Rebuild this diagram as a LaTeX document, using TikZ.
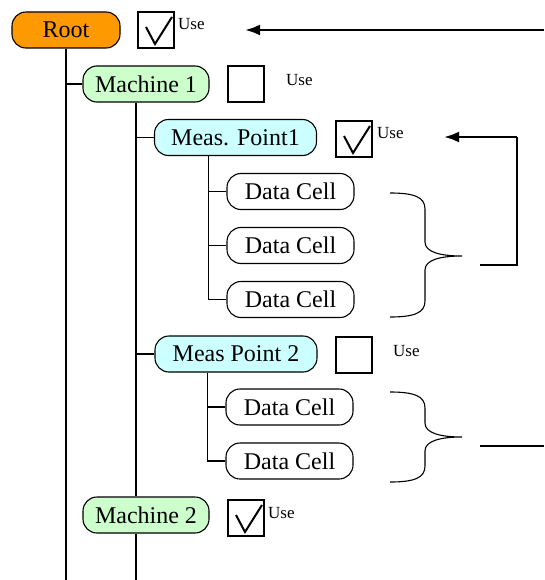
\documentclass[tikz,border=0pt]{standalone}
\usepackage{fontspec}
\setmainfont{Liberation Serif}
\usepackage{tikz}
\usetikzlibrary{positioning,calc,arrows.meta}

\definecolor{rootorange}{HTML}{FF9900}
\definecolor{machgreen}{HTML}{CCFFCC}
\definecolor{meascyan}{HTML}{CCFFFF}

% tick in a "Use" box
\newcommand{\usetick}[1]{\draw[tick] ($(#1.center)+(-10,-3)$) -- ($(#1.center)+(-1,14)$) -- ($(#1.center)+(16,-13)$);}
% brace: top y, tip y, bottom y
\newcommand{\cellbrace}[3]{\draw[tree] (390,#1) .. controls (414,#1) and (425,#1+4) .. (425,#1+16)
    -- (425,#2-14) .. controls (425,#2-4) and (440,#2) .. (462,#2)
    .. controls (440,#2) and (425,#2+4) .. (425,#2+14)
    -- (425,#3-16) .. controls (425,#3-4) and (414,#3) .. (390,#3);}

\begin{document}
\begin{tikzpicture}[
    x=1pt, y=-1pt,
    tnode/.style={draw, line width=1.1pt, rounded corners=14pt, minimum height=36pt, inner sep=0pt, font=\rmfamily\fontsize{24}{27}\selectfont},
    rootnode/.style={tnode, fill=rootorange, minimum width=108pt},
    machnode/.style={tnode, fill=machgreen, minimum width=126pt},
    measnode/.style={tnode, fill=meascyan, minimum width=162pt},
    cellnode/.style={tnode, fill=white, minimum width=127pt},
    usebox/.style={draw, line width=1.1pt, minimum size=36pt, inner sep=0pt},
    uselabel/.style={anchor=base west, inner sep=0pt, font=\rmfamily\fontsize{17}{20}\selectfont},
    tree/.style={line width=1.1pt},
    tick/.style={line width=2pt},
    feedarrow/.style={line width=2.5pt, -{Latex[length=15pt,width=11pt]}}
]
\useasboundingbox (0,0) rectangle (544,580);

% Define node positions
\node[rootnode] (root) at (66,30) {Root};
\node[machnode] (m1) at (146,84) {Machine 1};
\node[measnode] (mp1) at (235.5,137.5) {Meas. Point1};
\node[cellnode] (c11) at (290.5,191.5) {Data Cell};
\node[cellnode] (c12) at (290.5,245.5) {Data Cell};
\node[cellnode] (c13) at (290.5,299.5) {Data Cell};
\node[measnode] (mp2) at (236,354) {Meas Point 2};
\node[cellnode] (c21) at (289.5,407) {Data Cell};
\node[cellnode] (c22) at (289.5,461) {Data Cell};
\node[machnode] (m2) at (146,515) {Machine 2};
\coordinate (bottom) at (0,580);

% Use boxes
\node[usebox] (rootbox) at (156,30) {};
\node[usebox] (m1box) at (246,84) {};
\node[usebox] (mp1box) at (354,139) {};
\node[usebox] (mp2box) at (354,355) {};
\node[usebox] (m2box) at (246,518) {};
\usetick{rootbox}
\usetick{mp1box}
\usetick{m2box}
\node[uselabel] (rootuse) at (178,30) {Use};
\node[uselabel] (m1use) at (286,86) {Use};
\node[uselabel] (mp1use) at (377,139) {Use};
\node[uselabel] (mp2use) at (393,356) {Use};
\node[uselabel] (m2use) at (268,518) {Use};

% Tree lines
\draw[tree] (root.south) -- (root.south |- bottom);
\draw[tree] (root.south |- m1.west) -- (m1.west);
\draw[tree] ([xshift=-18pt]mp1.west |- m1.south) -- ([xshift=-18pt]mp1.west |- m2.north);
\draw[tree] ([xshift=-18pt]mp1.west |- m2.south) -- ([xshift=-18pt]mp1.west |- bottom);
\draw[tree] ([xshift=-18pt]mp1.west) -- (mp1.west);
\draw[tree] ([xshift=-18pt]mp2.west) -- (mp2.west);
\draw[tree] ([xshift=-18pt]c11.west |- mp1.south) |- (c13.west);
\draw[tree] ([xshift=-18pt]c11.west) -- (c11.west);
\draw[tree] ([xshift=-18pt]c12.west) -- (c12.west);
\draw[tree] ([xshift=-18pt]c21.west |- mp2.south) |- (c22.west);
\draw[tree] ([xshift=-18pt]c21.west) -- (c21.west);

% Braces and feedback
\cellbrace{193}{256}{317}
\cellbrace{392}{437}{482}
\coordinate (rootfeed) at (544,30);
\coordinate (rootin) at (245,30);
\coordinate (fb1) at (480,265);
\coordinate (fb1turn) at (517,137);
\coordinate (fb1in) at (444,137);
\coordinate (fb2) at (480,446);
\coordinate (fb2end) at (544,446);
\draw[feedarrow] (rootfeed) -- (rootin);
\draw[tree] (fb1) -| (fb1turn);
\draw[feedarrow] (fb1turn) -- (fb1in);
\draw[tree] (fb2) -- (fb2end);

\end{tikzpicture}
\end{document}
